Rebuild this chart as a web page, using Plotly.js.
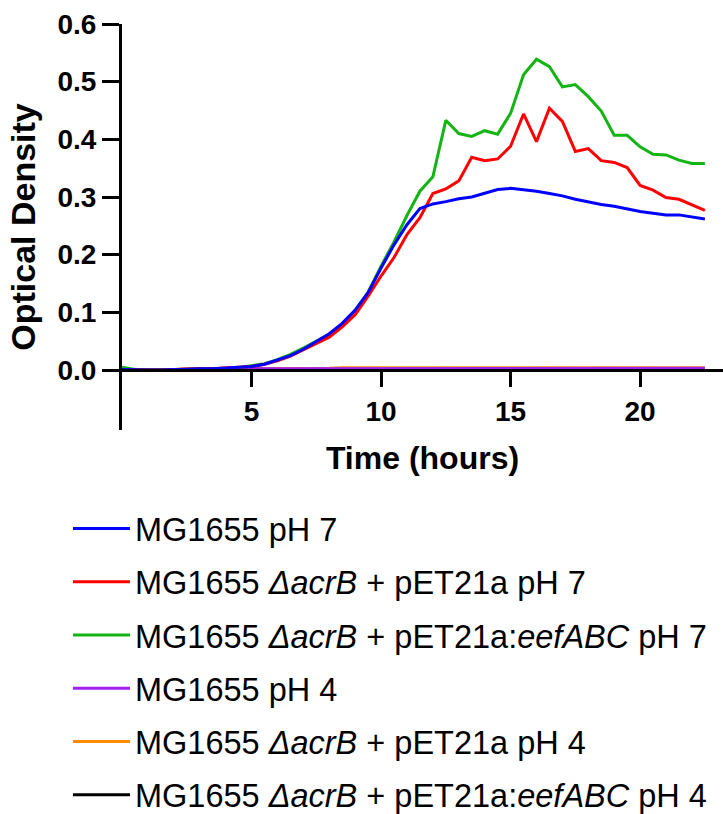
<!DOCTYPE html>
<html>
<head>
<meta charset="utf-8">
<script src="https://cdn.plot.ly/plotly-3.0.1.min.js"></script>
<style>html,body{margin:0;padding:0;background:#fff;}#chart{width:723px;height:814px;}</style>
</head>
<body>
<div id="chart"></div>
<script>
// Time points (hours)
const hours = [0,0.5,1,1.5,2,2.5,3,3.5,4,4.5,5,5.5,6,6.5,7,7.5,8,8.5,9,9.5,10,10.5,11,11.5,12,12.5,13,13.5,14,14.5,15,15.5,16,16.5,17,17.5,18,18.5,19,19.5,20,20.5,21,21.5,22,22.5];

// Series names (legend order)
const names = [
  "MG1655 pH 7",
  "MG1655 <i>ΔacrB</i> + pET21a pH 7",
  "MG1655 <i>ΔacrB</i> + pET21a:<i>eefABC</i> pH 7",
  "MG1655 pH 4",
  "MG1655 <i>ΔacrB</i> + pET21a pH 4",
  "MG1655 <i>ΔacrB</i> + pET21a:<i>eefABC</i> pH 4"
];

// Optical density values
const wtPH7 = [0.001,0.000,0.000,0.000,0.001,0.001,0.002,0.002,0.003,0.004,0.006,0.010,0.017,0.025,0.036,0.049,0.063,0.081,0.104,0.134,0.177,0.217,0.252,0.280,0.288,0.292,0.297,0.300,0.306,0.313,0.315,0.313,0.310,0.306,0.302,0.296,0.291,0.287,0.284,0.279,0.275,0.272,0.269,0.269,0.266,0.262];
const acrBPH7 = [0.001,0.000,0.000,0.000,0.001,0.001,0.002,0.002,0.003,0.004,0.006,0.010,0.016,0.024,0.035,0.046,0.057,0.075,0.096,0.128,0.163,0.195,0.235,0.264,0.306,0.314,0.328,0.369,0.363,0.366,0.388,0.444,0.396,0.454,0.431,0.379,0.384,0.363,0.360,0.351,0.320,0.312,0.299,0.296,0.286,0.277];
const eefPH7 = [0.005,0.001,0.000,0.000,0.001,0.001,0.002,0.002,0.003,0.004,0.007,0.011,0.018,0.027,0.038,0.050,0.062,0.080,0.103,0.135,0.180,0.222,0.268,0.310,0.335,0.433,0.410,0.405,0.415,0.409,0.445,0.512,0.539,0.526,0.491,0.495,0.474,0.449,0.407,0.407,0.387,0.374,0.373,0.364,0.358,0.358];
const wtPH4 = [0.000,0.000,0.000,0.001,0.001,0.001,0.001,0.001,0.001,0.001,0.002,0.002,0.002,0.002,0.002,0.002,0.002,0.002,0.002,0.002,0.002,0.002,0.003,0.003,0.003,0.003,0.003,0.003,0.003,0.003,0.003,0.003,0.003,0.003,0.003,0.003,0.003,0.003,0.003,0.003,0.003,0.003,0.003,0.003,0.003,0.003];
const acrBPH4 = [0.000,0.000,0.001,0.001,0.001,0.002,0.002,0.002,0.002,0.003,0.003,0.003,0.003,0.003,0.003,0.003,0.003,0.004,0.004,0.004,0.004,0.004,0.004,0.004,0.004,0.004,0.004,0.004,0.004,0.004,0.004,0.004,0.004,0.004,0.004,0.004,0.004,0.004,0.004,0.004,0.004,0.004,0.004,0.004,0.004,0.004];
const eefPH4 = [0.000,0.000,0.000,0.000,0.001,0.001,0.001,0.001,0.001,0.001,0.001,0.001,0.001,0.001,0.001,0.001,0.002,0.002,0.002,0.002,0.002,0.002,0.002,0.002,0.002,0.002,0.002,0.002,0.002,0.002,0.002,0.002,0.002,0.002,0.002,0.002,0.002,0.002,0.002,0.002,0.002,0.002,0.002,0.002,0.002,0.002];

const colors = ["#0000FF","#FF0000","#14B414","#A020F0","#FF8C00","#000000"];
const series = [wtPH7, acrBPH7, eefPH7, wtPH4, acrBPH4, eefPH4];

const yTicks = [0,0.1,0.2,0.3,0.4,0.5,0.6];
const xTicks = [5,10,15,20];

const FONT = "Liberation Sans, Arial, sans-serif";

// draw order: pH 4 first, blue last (on top)
const drawOrder = [5,4,3,2,1,0];
const traces = drawOrder.map(i => ({
  x: hours, y: series[i], name: names[i], type: "scatter", mode: "lines",
  line: {color: colors[i], width: 3},
  legendgroup: "g" + i, legendrank: i + 1, showlegend: true
}));

const yMin = -0.104, yMax = 0.6;
const layout = {
  width: 723, height: 814,
  margin: {l: 122, r: 0, t: 24, b: 384, autoexpand: false},
  paper_bgcolor: "#fff", plot_bgcolor: "#fff",
  font: {family: FONT, color: "#000"},
  showlegend: true,
  legend: {
    x: -0.0899, xanchor: "left", y: -0.1745, yanchor: "top",
    font: {family: FONT, size: 32.5, color: "#000"},
    itemwidth: 57, tracegroupgap: 8, traceorder: "grouped",
    bgcolor: "rgba(0,0,0,0)", borderwidth: 0
  },
  xaxis: {
    range: [0, 23.2], anchor: "free", position: (0 - yMin) / (yMax - yMin),
    showline: true, linecolor: "#000", linewidth: 3,
    showgrid: false, zeroline: false,
    ticks: "outside", ticklen: 15, tickwidth: 3, tickcolor: "#000",
    tickvals: xTicks, ticktext: xTicks.map(String),
    tickfont: {family: FONT, size: 28, weight: "bold", color: "#000"},
    title: {text: "Time (hours)", font: {family: FONT, size: 32, weight: "bold", color: "#000"}, standoff: 20}
  },
  yaxis: {
    range: [yMin, yMax],
    showline: true, linecolor: "#000", linewidth: 3,
    showgrid: false, zeroline: false,
    ticks: "outside", ticklen: 17, tickwidth: 3, tickcolor: "#000",
    tickvals: yTicks, ticktext: yTicks.map(v => v.toFixed(1)),
    tickfont: {family: FONT, size: 28, weight: "bold", color: "#000"},
    title: {text: "Optical Density", font: {family: FONT, size: 34, weight: "bold", color: "#000"}, standoff: 12}
  }
};

Plotly.newPlot("chart", traces, layout, {displayModeBar: false, staticPlot: true});
</script>
</body>
</html>
